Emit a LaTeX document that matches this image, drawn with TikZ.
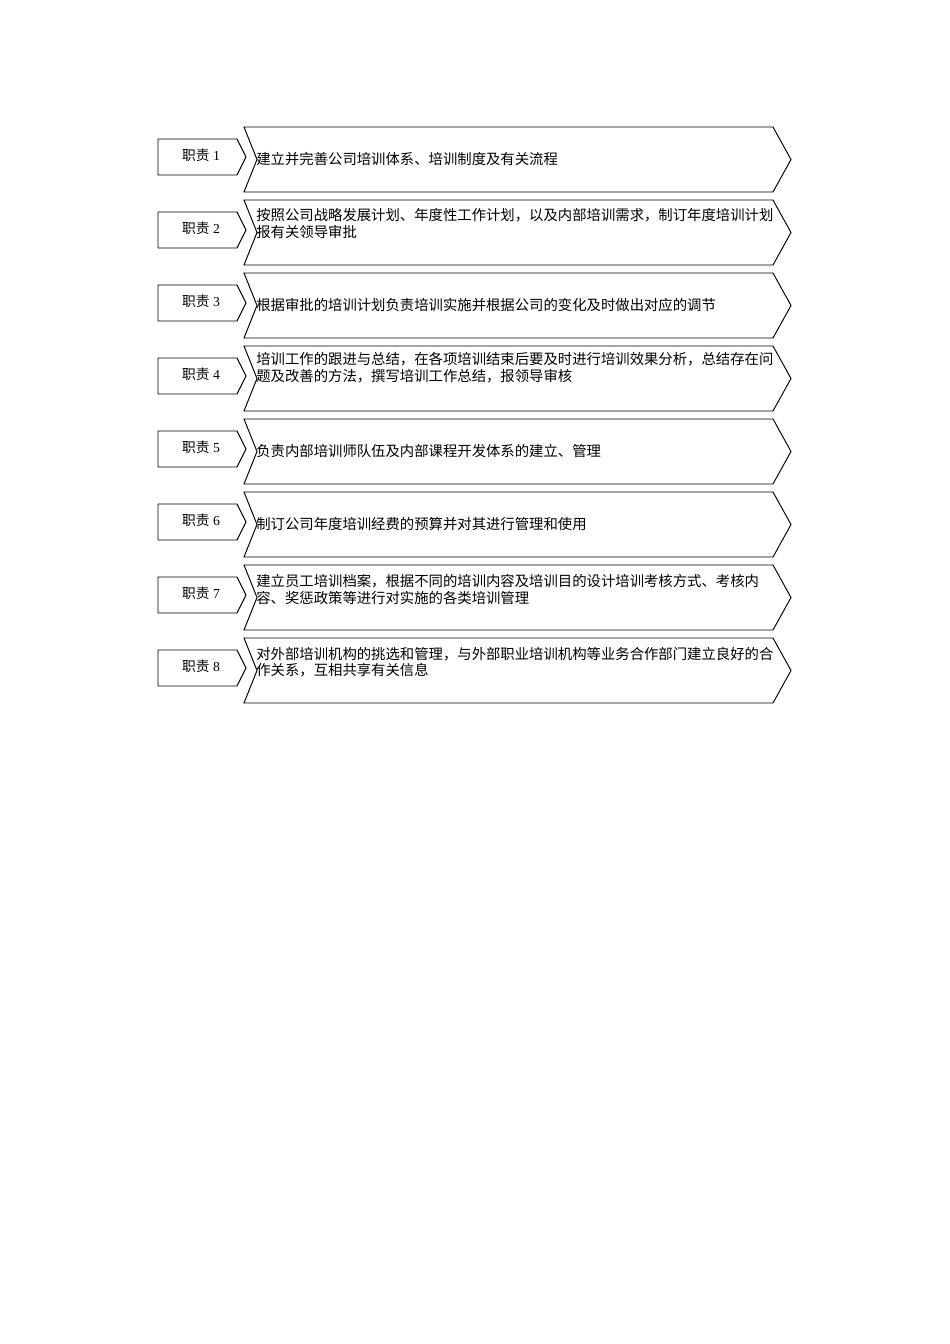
\documentclass[tikz,border=0pt]{standalone}
\usepackage{fontspec}
\setmainfont{Liberation Serif}
\newfontfamily\cjk{Noto Sans CJK SC}
\begin{document}
\begin{tikzpicture}[x=0.6266pt, y=-0.6266pt,
    duty/.style={draw=black, line width=0.6pt, line join=miter},
    tag/.style={font=\fontsize{8.6}{10}\selectfont, inner sep=0},
    txt/.style={font=\cjk\fontsize{9}{10.3}\selectfont, anchor=west, align=left, inner sep=0}]
    \useasboundingbox (0,0) rectangle (950,1344);
    % one row per duty
    \foreach \i/\y in {1/127,2/200,3/273,4/346,5/419,6/492,7/565,8/638} {
        \draw[duty] (244,\y) -- (773,\y) -- (791,\y+32.5) -- (773,\y+65) -- (244,\y+65) -- (257,\y+32.5) -- cycle;
        \draw[duty] (158,\y+12) -- (237,\y+12) -- (246,\y+30) -- (237,\y+48) -- (158,\y+48) -- cycle;
        \node[tag] (tag\i) at (201,\y+28) {{\cjk 职责} \i};
    }
    \node[txt] (duty1) at (256,159.5) {建立并完善公司培训体系、培训制度及有关流程};
    \node[txt] (duty2) at (256,223.5) {按照公司战略发展计划、年度性工作计划，以及内部培训需求，制订年度培训计划\\报有关领导审批};
    \node[txt] (duty3) at (256,305.5) {根据审批的培训计划负责培训实施并根据公司的变化及时做出对应的调节};
    \node[txt] (duty4) at (256,367.5) {培训工作的跟进与总结，在各项培训结束后要及时进行培训效果分析，总结存在问\\题及改善的方法，撰写培训工作总结，报领导审核};
    \node[txt] (duty5) at (256,451.5) {负责内部培训师队伍及内部课程开发体系的建立、管理};
    \node[txt] (duty6) at (256,524.5) {制订公司年度培训经费的预算并对其进行管理和使用};
    \node[txt] (duty7) at (256,589.5) {建立员工培训档案，根据不同的培训内容及培训目的设计培训考核方式、考核内\\容、奖惩政策等进行对实施的各类培训管理};
    \node[txt] (duty8) at (256,662) {对外部培训机构的挑选和管理，与外部职业培训机构等业务合作部门建立良好的合\\作关系，互相共享有关信息};
\end{tikzpicture}
\end{document}
